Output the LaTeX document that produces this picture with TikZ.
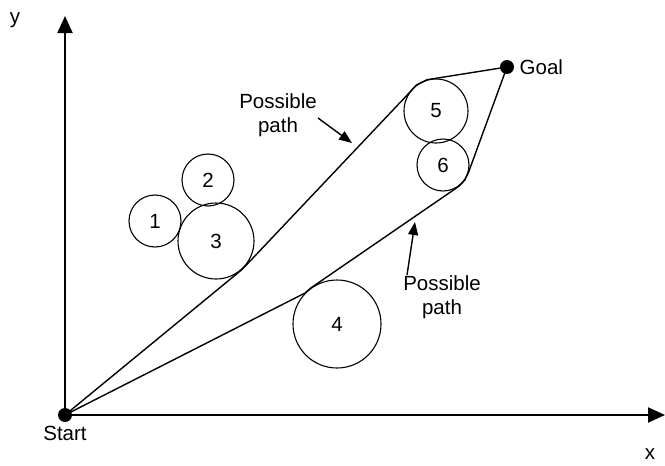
\documentclass[tikz,border=0pt]{standalone}
\usepackage{fontspec}
\setmainfont{Liberation Sans}
\usetikzlibrary{positioning, arrows.meta}

\begin{document}
\begin{tikzpicture}[x=1pt, y=-1pt,
    every node/.style={font=\fontsize{20.5}{24}\selectfont},
    obstacle/.style={draw, circle, inner sep=0pt, line width=1.1pt},
    dot/.style={circle, fill, inner sep=0pt, minimum size=14},
    axis/.style={line width=2pt, -{Triangle[length=17pt, width=15pt]}},
    route/.style={line width=1.4pt, line join=round},
    pointer/.style={line width=1.4pt, -{Triangle[length=13pt, width=10pt]}}]
  \useasboundingbox (0,0) rectangle (665,466);

  % obstacles
  \foreach \n/\px/\py/\d in {1/155/221/52, 2/208/180/52, 3/216/241/76,
                             4/337/324/88, 5/436/111/64, 6/443/165/52}{
    \node[obstacle, minimum size=\d] (c\n) at (\px,\py) {\n};
  }

  % start and goal
  \node[dot] (start) at (65,415) {};
  \node[dot] (goal) at (507,67) {};
  \node[below=0pt of start] (startlab) {Start};
  \node[right=2pt of goal] (goallab) {Goal};

  % axes
  \coordinate (yend) at (65,16);
  \coordinate (xend) at (665,415);
  \draw[axis] (start.center) -- (yend);
  \draw[axis] (start.center) -- (xend);
  \node (ylab) at (15,20) {y};
  \node (xlab) at (650,454) {x};

  % the two paths
  \draw[route] (start.center) -- (c3.-50) -- (c3.-44) -- (c5.148) -- (c5.127)
    -- (c5.106) -- (goal.center);
  \draw[route] (start.center) -- (c4.136) -- (c4.126) -- (c6.-54) -- (c6.-35)
    -- (c6.-16) -- (goal.center);

  % labels
  \node[align=center] (uplab) at (278,115) {Possible\\path};
  \node[align=center] (lowlab) at (442,297) {Possible\\path};
  \coordinate (uptip) at (352,143);
  \coordinate (lowtip) at (415,222);
  \draw[pointer] (318,118) -- (uptip);
  \draw[pointer] (407,275) -- (lowtip);
\end{tikzpicture}
\end{document}
